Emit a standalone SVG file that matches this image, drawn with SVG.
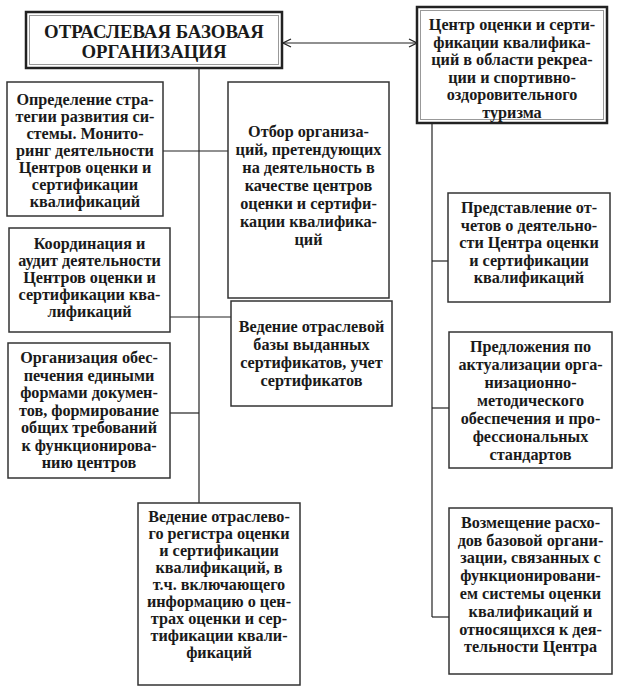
<svg xmlns="http://www.w3.org/2000/svg" width="623" height="692" viewBox="0 0 623 692">
<defs>
<style>
.box{fill:#fff;stroke:#333;stroke-width:1.5}
.tb{fill:none;stroke:#222;stroke-width:2.5}
.ti{fill:none;stroke:#999;stroke-width:1}
.ln{fill:none;stroke:#222;stroke-width:1.2}
text{font-family:'Liberation Serif','Times New Roman',serif;font-weight:700;font-size:16.2px;fill:#1a1a1a;text-anchor:middle}
.hd{font-size:18.8px}
</style>
<marker id="ah" viewBox="0 0 10 10" refX="9" refY="5" markerWidth="10" markerHeight="10" markerUnits="userSpaceOnUse" orient="auto-start-reverse">
<path d="M1,1 L9,5 L1,9" fill="none" stroke="#222" stroke-width="1.3"/>
</marker>
</defs>
<rect width="623" height="692" fill="#fff"/>
<g id="connectors">
<line class="ln" x1="283" y1="43" x2="417" y2="43" marker-start="url(#ah)" marker-end="url(#ah)"/>
<line class="ln" x1="199" y1="68" x2="199" y2="503"/>
<line class="ln" x1="163" y1="151" x2="228" y2="151"/>
<line class="ln" x1="170" y1="317" x2="231" y2="317"/>
<line class="ln" x1="170" y1="413" x2="199" y2="413"/>
<line class="ln" x1="432" y1="123" x2="432" y2="617"/>
<line class="ln" x1="432" y1="261" x2="448" y2="261"/>
<line class="ln" x1="432" y1="408" x2="449" y2="408"/>
<line class="ln" x1="432" y1="617" x2="449" y2="617"/>
</g>
<g id="header">
<rect x="26" y="12" width="256" height="56" fill="#fff" class="tb"/>
<rect x="29.5" y="15.5" width="249" height="49" class="ti"/>
<text class="hd" x="154" y="38">ОТРАСЛЕВАЯ БАЗОВАЯ</text>
<text class="hd" x="154" y="58">ОРГАНИЗАЦИЯ</text>
</g>
<g id="center">
<rect x="417" y="7" width="190" height="116" fill="#fff" class="tb"/>
<rect x="420.5" y="10.5" width="183" height="109" class="ti"/>
<text x="512" y="30">Центр оценки и серти-</text>
<text x="512" y="47.5">фикации квалифика-</text>
<text x="512" y="65">ций в области рекреа-</text>
<text x="512" y="82.5">ции и спортивно-</text>
<text x="512" y="100">оздоровительного</text>
<text x="512" y="117.5">туризма</text>
</g>
<g id="l1">
<rect class="box" x="7" y="82" width="156" height="134"/>
<text x="85" y="105">Определение стра-</text>
<text x="85" y="122">тегии развития си-</text>
<text x="85" y="139">стемы. Монито-</text>
<text x="85" y="156">ринг деятельности</text>
<text x="85" y="173">Центров оценки и</text>
<text x="85" y="190">сертификации</text>
<text x="85" y="207">квалификаций</text>
</g>
<g id="l2">
<rect class="box" x="9" y="228" width="161" height="104"/>
<text x="89.5" y="249">Координация и</text>
<text x="89.5" y="266">аудит деятельности</text>
<text x="89.5" y="283">Центров оценки и</text>
<text x="89.5" y="300">сертификации ква-</text>
<text x="89.5" y="317">лификаций</text>
</g>
<g id="l3">
<rect class="box" x="8" y="343" width="162" height="135"/>
<text x="89" y="363">Организация обес-</text>
<text x="89" y="380.5">печения едиными</text>
<text x="89" y="398">формами докумен-</text>
<text x="89" y="415.5">тов, формирование</text>
<text x="89" y="433">общих требований</text>
<text x="89" y="450.5">к функционирова-</text>
<text x="89" y="468">нию центров</text>
</g>
<g id="m1">
<rect class="box" x="228" y="82" width="161" height="216"/>
<text x="308.5" y="137">Отбор организа-</text>
<text x="308.5" y="155">ций, претендующих</text>
<text x="308.5" y="173">на деятельность в</text>
<text x="308.5" y="191">качестве центров</text>
<text x="308.5" y="209">оценки и сертифи-</text>
<text x="308.5" y="227">кации квалифика-</text>
<text x="308.5" y="245">ций</text>
</g>
<g id="m2">
<rect class="box" x="231" y="301" width="161" height="105"/>
<text x="311.5" y="332">Ведение отраслевой</text>
<text x="311.5" y="350">базы выданных</text>
<text x="311.5" y="368">сертификатов, учет</text>
<text x="311.5" y="386">сертификатов</text>
</g>
<g id="b1">
<rect class="box" x="138" y="503" width="162" height="182"/>
<text x="219" y="522">Ведение отраслево-</text>
<text x="219" y="539">го регистра оценки</text>
<text x="219" y="556">и сертификации</text>
<text x="219" y="573">квалификаций, в</text>
<text x="219" y="590">т.ч. включающего</text>
<text x="219" y="607">информацию о цен-</text>
<text x="219" y="624">трах оценки и сер-</text>
<text x="219" y="641">тификации квали-</text>
<text x="219" y="658">фикаций</text>
</g>
<g id="r1">
<rect class="box" x="448" y="193" width="162" height="109"/>
<text x="529" y="213">Представление от-</text>
<text x="529" y="230.5">четов о деятельно-</text>
<text x="529" y="248">сти Центра оценки</text>
<text x="529" y="265.5">и сертификации</text>
<text x="529" y="283">квалификаций</text>
</g>
<g id="r2">
<rect class="box" x="449" y="332" width="163" height="136"/>
<text x="530.5" y="352">Предложения по</text>
<text x="530.5" y="370">актуализации орга-</text>
<text x="530.5" y="388">низационно-</text>
<text x="530.5" y="406">методического</text>
<text x="530.5" y="424">обеспечения и про-</text>
<text x="530.5" y="442">фессиональных</text>
<text x="530.5" y="460">стандартов</text>
</g>
<g id="r3">
<rect class="box" x="449" y="508" width="163" height="166"/>
<text x="530.5" y="528">Возмещение расхо-</text>
<text x="530.5" y="545.5">дов базовой органи-</text>
<text x="530.5" y="563">зации, связанных с</text>
<text x="530.5" y="581">функционировани-</text>
<text x="530.5" y="599">ем системы оценки</text>
<text x="530.5" y="617">квалификаций и</text>
<text x="530.5" y="634.5">относящихся к дея-</text>
<text x="530.5" y="652">тельности Центра</text>
</g>
</svg>
